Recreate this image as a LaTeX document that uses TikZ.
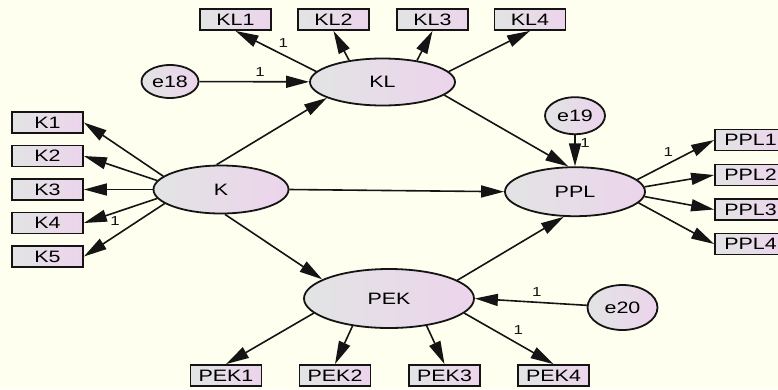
\documentclass[tikz,border=0pt]{standalone}
\usepackage{fontspec}
\setmainfont[FakeStretch=1.3]{Liberation Sans}
\usetikzlibrary{shapes.geometric,arrows.meta}
\definecolor{bg}{RGB}{255,255,240}
\definecolor{fillL}{RGB}{226,228,228}
\definecolor{fillR}{RGB}{236,212,236}
\definecolor{ink}{RGB}{20,20,20}
\begin{document}
\begin{tikzpicture}[x=1pt,y=-1pt,
  box/.style={draw=ink, line width=1.8pt, left color=fillL, right color=fillR,
    minimum width=71pt, minimum height=21pt, inner sep=0pt,
    font=\fontsize{16.5}{18}\selectfont},
  lat/.style={ellipse, draw=ink, line width=1.8pt, left color=fillL, right color=fillR,
    inner sep=0pt, font=\fontsize{16.5}{18}\selectfont},
  path/.style={draw=ink, line width=1.6pt, -{Triangle[length=23pt,width=12pt]}},
  lbl/.style={font=\fontsize{13}{14}\selectfont, inner sep=0pt, text=ink}]
\fill[bg] (0,0) rectangle (778,389);
\useasboundingbox (0,0) rectangle (778,389);
\clip (0,0) rectangle (778,389);
% indicator boxes
\node[box] (KL1) at (235.5,19.5) {KL1};
\node[box] (KL2) at (333.5,19.5) {KL2};
\node[box] (KL3) at (432.5,19.5) {KL3};
\node[box] (KL4) at (530,19.5) {KL4};
\node[box] (K1) at (47.5,122.5) {K1};
\node[box] (K2) at (47.5,156) {K2};
\node[box] (K3) at (47.5,189.5) {K3};
\node[box] (K4) at (47.5,223) {K4};
\node[box] (K5) at (47.5,256.5) {K5};
\node[box] (PPL1) at (750.5,140) {PPL1};
\node[box] (PPL2) at (750.5,175) {PPL2};
\node[box] (PPL3) at (750.5,209.5) {PPL3};
\node[box] (PPL4) at (750.5,244) {PPL4};
\node[box] (PEK1) at (226,375.5) {PEK1};
\node[box] (PEK2) at (335,375.5) {PEK2};
\node[box] (PEK3) at (444.5,375.5) {PEK3};
\node[box] (PEK4) at (553.5,375.5) {PEK4};
% latent variables
\node[lat, minimum width=145pt, minimum height=47pt] (KL) at (382.5,82) {KL};
\node[lat, minimum width=135pt, minimum height=48pt] (K) at (221,189.5) {K};
\node[lat, minimum width=140pt, minimum height=49pt] (PPL) at (575,191.7) {PPL};
\node[lat, minimum width=170pt, minimum height=59pt] (PEK) at (389,298.5) {PEK};
% errors
\node[lat, minimum width=57pt, minimum height=33pt] (e18) at (170,81.5) {e18};
\node[lat, minimum width=60pt, minimum height=37pt] (e19) at (575,115.7) {e19};
\node[lat, minimum width=70pt, minimum height=45pt] (e20) at (622.5,307.5) {e20};
% KL indicators
\draw[path] (KL.171) -- (KL1.south);
\draw[path] (KL.147) -- (KL2.south);
\draw[path] (KL.32) -- (KL3.south);
\draw[path] (KL.9) -- (KL4.south);
% K indicators
\draw[path] (K.167) -- (K1.east);
\draw[path] (K.172) -- (K2.east);
\draw[path] (K.west) -- (K3.east);
\draw[path] (K.188) -- (K4.east);
\draw[path] (K.194) -- (K5.east);
% PPL indicators
\draw[path] (PPL.11) -- (PPL1.west);
\draw[path] (PPL.4) -- (PPL2.west);
\draw[path] (PPL.356) -- (PPL3.west);
\draw[path] (PPL.350) -- (PPL4.west);
% PEK indicators
\draw[path] (PEK.191) -- (PEK1.north);
\draw[path] (PEK.217) -- (PEK2.north);
\draw[path] (PEK.324) -- (PEK3.north);
\draw[path] (PEK.349) -- (PEK4.north);
% structural paths
\draw[path] (e18) -- (KL);
\draw[path] (K.100) -- (KL.196);
\draw[path] (K.east) -- (PPL.west);
\draw[path] (K.279) -- (PEK.164);
\draw[path] (KL.348) -- (PPL.105);
\draw[path] (PEK.15) -- (PPL.246);
\draw[path] (e19.south) -- (PPL.north);
\draw[path] (e20) -- (PEK.east);
% regression weight labels
\node[lbl] (w1) at (283.3,43.3) {1};
\node[lbl] (w2) at (260,72) {1};
\node[lbl] (w3) at (115,221) {1};
\node[lbl] (w4) at (585,143.3) {1};
\node[lbl] (w5) at (668.3,151.7) {1};
\node[lbl] (w6) at (536.7,291.7) {1};
\node[lbl] (w7) at (518.3,330) {1};
\end{tikzpicture}
\end{document}
